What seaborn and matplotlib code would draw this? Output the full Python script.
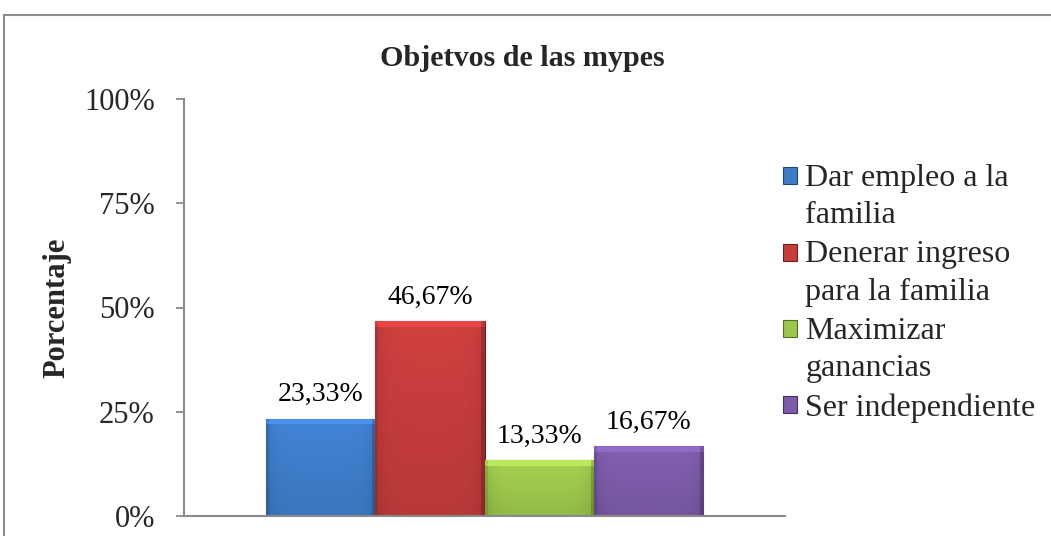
import numpy as np
import pandas as pd
import matplotlib
matplotlib.use("Agg")
import matplotlib.pyplot as plt
import seaborn as sns
from matplotlib.patches import Rectangle
from matplotlib.legend_handler import HandlerBase
from matplotlib.colors import to_rgb

# ---- data ----
title = "Objetvos de las mypes"
ylabel = "Porcentaje"
series = ["Dar empleo a la\nfamilia", "Denerar ingreso\npara la familia",
          "Maximizar\nganancias", "Ser independiente"]
values = [23.33, 46.67, 13.33, 16.67]
value_labels = ["23,33%", "46,67%", "13,33%", "16,67%"]
yticks = [0, 25, 50, 75, 100]
ytick_labels = ["0%", "25%", "50%", "75%", "100%"]
colors = ["#3e7dca", "#c43c3c", "#9cc64c", "#7d5ba8"]

sns.set_theme(style="white")
plt.rcParams["font.family"] = ["Liberation Serif", "DejaVu Serif"]

W, H = 1051, 536
fig = plt.figure(figsize=(W / 100, H / 100), dpi=100)
ax = fig.add_axes([184 / W, 1 - 516 / H, (785 - 184) / W, (516 - 99) / H])

df = pd.DataFrame({"serie": series, "valor": values})
sns.barplot(data=df, x="serie", y="valor", hue="serie", palette=colors,
            width=1.0, legend=False, ax=ax, saturation=1, zorder=2)

# gradient / bevel shading on bars
ax.set_autoscale_on(False)
for patch, col in zip(ax.patches, colors):
    x0, y0 = patch.get_x(), patch.get_y()
    w, h = patch.get_width(), patch.get_height()
    base = np.array(to_rgb(col))
    ny = max(int(h * 4.17), 10)
    nx = 110
    yy = np.linspace(0, 1, ny)[:, None]          # 0 top -> 1 bottom
    xx = np.linspace(0, 1, nx)[None, :]
    shade = 1.06 - 0.12 * yy                      # lighter top, darker bottom
    shade = shade - 0.10 * (np.abs(2 * xx - 1) ** 6)
    shade = shade * np.ones((ny, nx))
    rows = np.arange(ny)[:, None] * np.ones((1, nx))
    cols = np.arange(nx)[None, :] * np.ones((ny, 1))
    top = rows < 6
    shade[top] = 1.18
    shade[cols >= nx - 4] *= 0.82
    shade[cols < 3] *= 0.9
    img = np.clip(base[None, None, :] * shade[:, :, None], 0, 1)
    im = ax.imshow(img, extent=[x0, x0 + w, y0, y0 + h], aspect="auto",
                   origin="upper", zorder=2.5, interpolation="bilinear")
    im.set_clip_path(patch)
    patch.set_edgecolor(tuple(base * 0.55))
    patch.set_linewidth(0.8)

for patch, lab in zip(ax.patches, value_labels):
    ax.annotate(lab, (patch.get_x() + patch.get_width() / 2, patch.get_height()),
                xytext=(0, 8.5), textcoords="offset points", ha="center", va="bottom",
                fontsize=20, color="black")

ax.set_xlim(-1.25, 4.25)
ax.set_ylim(0, 100)
ax.set_yticks(yticks)
ax.set_yticklabels(ytick_labels)
ax.set_xticks([])
ax.set_xlabel("")
ax.set_ylabel(ylabel, fontsize=22, fontweight="bold")
ax.yaxis.set_label_coords(-0.187, 0.5)
ax.tick_params(axis="y", which="major", left=True, length=6, width=1.3,
               color="#8a8a8a", labelsize=22, pad=15, direction="out")
for s in ["top", "right"]:
    ax.spines[s].set_visible(False)
for s in ["left", "bottom"]:
    ax.spines[s].set_color("#8a8a8a")
    ax.spines[s].set_linewidth(1.5)
ax.set_facecolor("none")

fig.text(0.497, 1 - 59 / H, title, ha="center", va="center",
         fontsize=21.7, fontweight="bold")

# figure border
fig.patches.append(Rectangle((4 / W, -0.2), 1.5, 1 - 15 / H + 0.2,
                             transform=fig.transFigure, fill=False,
                             edgecolor="#8c8c8c", linewidth=1.5))

FS = 23
LS = 1.39


class TopSquare(HandlerBase):
    def __init__(self, nlines):
        super().__init__()
        self.nlines = nlines

    def create_artists(self, legend, orig_handle, xdescent, ydescent,
                       width, height, fontsize, trans):
        shift = (self.nlines - 1) * fontsize * 0.66
        r = Rectangle((-xdescent, -ydescent + shift), width, height,
                      facecolor=orig_handle.get_facecolor(),
                      edgecolor=tuple(np.array(orig_handle.get_facecolor()[:3]) * 0.55),
                      linewidth=0.8, transform=trans)
        return [r]


handles = [Rectangle((0, 0), 1, 1, facecolor=c) for c in colors]
hmap = {h: TopSquare(s.count("\n") + 1) for h, s in zip(handles, series)}
leg = fig.legend(handles, series, loc="upper left", bbox_to_anchor=(770 / W, 1 - 151 / H),
                 frameon=False, fontsize=FS, handlelength=0.45, handleheight=0.45,
                 handletextpad=0.25, labelspacing=0.31, handler_map=hmap,
                 borderaxespad=0)
for t in leg.get_texts():
    t.set_linespacing(LS)

fig.savefig("out.png", dpi=100)
